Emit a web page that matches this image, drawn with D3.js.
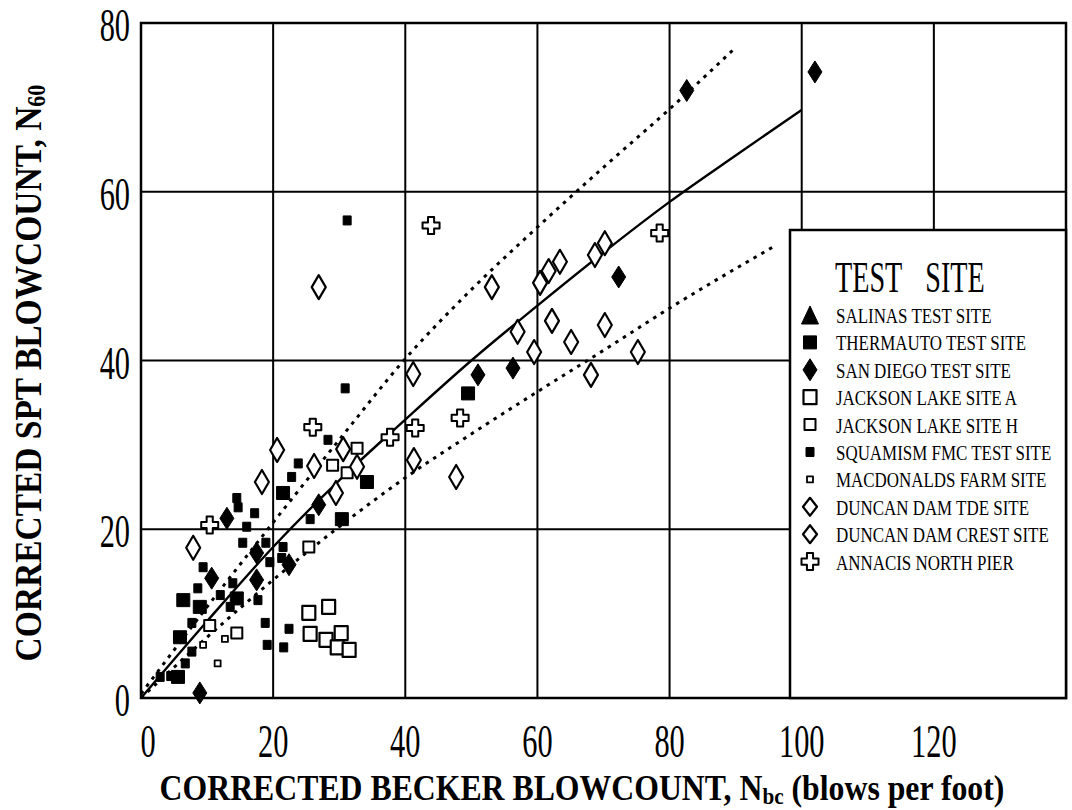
<!DOCTYPE html>
<html>
<head>
<meta charset="utf-8">
<script src="https://cdn.jsdelivr.net/npm/d3@7"></script>
<style>
  body { margin: 0; background: #fff; }
  svg { display: block; }
</style>
</head>
<body>
<svg id="chart" width="1072" height="810"></svg>
<script>
// ---- tick values ----
const xTicks = [0, 20, 40, 60, 80, 100, 120];
const yTicks = [0, 20, 40, 60, 80];

// ---- measured points: [corrected Becker N_bc, corrected SPT N60] ----
const salinas = [];
const thermauto = [[49.5, 36.1], [34.2, 25.6], [21.5, 24.3], [30.4, 21.2], [6.4, 11.6], [8.9, 10.8],
  [5.9, 7.2], [5.6, 2.5], [14.5, 11.8]];
const sanDiego = [[82.6, 72.0], [102.0, 74.2], [72.3, 49.9], [51.0, 38.3], [56.3, 39.1], [26.9, 22.9],
  [13.0, 21.3], [17.5, 17.2], [10.7, 14.2], [22.4, 15.8], [17.5, 14.0], [8.9, 0.6]];
const jacksonA = [[25.4, 10.1], [28.4, 10.8], [25.6, 7.6], [28.0, 6.9], [30.3, 7.7], [29.7, 6.0], [31.5, 5.7]];
const jacksonH = [[14.5, 7.7], [10.4, 8.6], [25.4, 17.9], [32.7, 29.6], [29.0, 27.6], [31.2, 26.7]];
const squamish = [[31.2, 56.6], [30.9, 36.7], [28.3, 30.6], [23.8, 27.8], [22.8, 26.2], [14.5, 23.7],
  [14.7, 22.6], [17.2, 21.9], [16.0, 20.3], [15.4, 18.4], [18.9, 18.4], [9.4, 15.5], [8.6, 13.0],
  [12.0, 12.2], [13.9, 13.6], [19.5, 16.1], [21.5, 17.9], [21.3, 16.6], [17.7, 11.6], [18.8, 8.9],
  [19.1, 6.3], [22.4, 8.2], [21.6, 6.0], [25.6, 21.2], [7.7, 8.9], [7.7, 5.5], [6.7, 4.1], [2.9, 2.5],
  [13.5, 10.8], [4.5, 2.6]];
const macdonalds = [[9.4, 6.3], [11.6, 4.1], [12.7, 7.0]];
const duncanTDE = [[26.9, 48.7], [41.2, 38.4], [41.3, 28.2], [30.6, 29.5], [32.7, 27.4], [26.2, 27.5],
  [29.5, 24.3], [20.6, 29.4], [18.3, 25.6], [7.9, 17.8]];
const duncanCrest = [[53.1, 48.7], [60.4, 49.2], [61.7, 50.6], [63.4, 51.7], [68.7, 52.5], [70.2, 53.9],
  [62.2, 44.7], [57.0, 43.4], [59.5, 41.0], [65.1, 42.2], [70.2, 44.2], [75.2, 41.0], [68.1, 38.3],
  [47.7, 26.2]];
const annacis = [[43.9, 56.0], [78.5, 55.1], [10.4, 20.5], [26.0, 32.1], [37.7, 30.9], [41.5, 32.0], [48.3, 33.2]];

// ---- trend curve and bounds, read along their length ----
const meanCurve = [[0, 0], [10, 9.1], [20, 17.9], [30, 25.8], [40, 33], [50, 40], [60, 46.5], [70, 52.8],
  [80, 58.8], [90, 64.3], [100, 69.7]];
const upperBound = [[0, 0.5], [10, 10.8], [20, 20.8], [30, 30.6], [40, 40.2], [50, 48.4], [60, 55.8],
  [70, 62.9], [80, 69.8], [89.6, 76.8]];
const lowerBound = [[0, 0], [10, 7.2], [20, 14], [30, 20.3], [40, 26.1], [50, 31.3], [60, 36.3],
  [70, 41.2], [80, 46.2], [96.2, 53.7]];

// ---- legend labels ----
const legendLabels = ["SALINAS TEST SITE", "THERMAUTO TEST SITE", "SAN DIEGO TEST SITE",
  "JACKSON LAKE SITE A", "JACKSON LAKE SITE H", "SQUAMISM FMC TEST SITE", "MACDONALDS FARM SITE",
  "DUNCAN DAM TDE SITE", "DUNCAN DAM CREST SITE", "ANNACIS NORTH PIER"];

const seriesData = [salinas, thermauto, sanDiego, jacksonA, jacksonH, squamish, macdonalds,
  duncanTDE, duncanCrest, annacis];

// marker look for each series, same order as legendLabels
const markerStyle = [
  { shape: "triangle", w: 17, h: 18, fill: true },
  { shape: "square", w: 13, h: 13, fill: true },
  { shape: "diamond", w: 14, h: 22, fill: true },
  { shape: "square", w: 13, h: 14, fill: false, sw: 2.2 },
  { shape: "square", w: 11, h: 11, fill: false, sw: 2.0 },
  { shape: "square", w: 8, h: 9, fill: true },
  { shape: "square", w: 6, h: 6, fill: false, sw: 1.8 },
  { shape: "diamond", w: 14, h: 24, fill: false, sw: 2.2 },
  { shape: "diamond", w: 14, h: 24, fill: false, sw: 2.2 },
  { shape: "cross", w: 17, h: 17, fill: false, sw: 2.0 }
];

const SERIF = "'Liberation Serif', 'Times New Roman', serif";

const svg = d3.select("#chart");
const x = d3.scaleLinear().domain([0, 140]).range([141, 1066]);
const y = d3.scaleLinear().domain([0, 80]).range([698, 23]);

function shapePath(s) {
  const w = s.w, h = s.h;
  if (s.shape === "triangle") return `M0,${-h / 2}L${w / 2},${h / 2}L${-w / 2},${h / 2}Z`;
  if (s.shape === "square") return `M${-w / 2},${-h / 2}h${w}v${h}h${-w}Z`;
  if (s.shape === "diamond") return `M0,${-h / 2}L${w / 2},0L0,${h / 2}L${-w / 2},0Z`;
  // plus sign outline
  const a = w * 0.36, b = (w - a) / 2;
  return `M${-a / 2},${-w / 2}h${a}v${b}h${b}v${a}h${-b}v${b}h${-a}v${-b}h${-b}v${-a}h${b}Z`;
}

function drawMarker(sel, s) {
  sel.append("path")
    .attr("d", shapePath(s))
    .attr("fill", s.fill ? "#000" : "#fff")
    .attr("stroke", "#000")
    .attr("stroke-width", s.fill ? 1 : s.sw)
    .attr("stroke-linejoin", "round");
}

// ---- grid and frame ----
const grid = svg.append("g").attr("stroke", "#000").attr("stroke-width", 2);
grid.selectAll("line.v").data(xTicks.filter(d => d > 0)).join("line")
  .attr("x1", d => x(d)).attr("x2", d => x(d)).attr("y1", y(0)).attr("y2", y(80));
grid.selectAll("line.h").data(yTicks.filter(d => d > 0 && d < 80)).join("line")
  .attr("class", "h")
  .attr("x1", x(0)).attr("x2", x(140)).attr("y1", d => y(d)).attr("y2", d => y(d));
svg.append("rect")
  .attr("x", x(0)).attr("y", y(80)).attr("width", x(140) - x(0)).attr("height", y(0) - y(80))
  .attr("fill", "none").attr("stroke", "#000").attr("stroke-width", 2.5);

// ---- curves ----
const line = d3.line().x(d => x(d[0])).y(d => y(d[1])).curve(d3.curveMonotoneX);
svg.append("path").datum(meanCurve).attr("d", line)
  .attr("fill", "none").attr("stroke", "#000").attr("stroke-width", 2.4);
[upperBound, lowerBound].forEach(c => {
  svg.append("path").datum(c).attr("d", line)
    .attr("fill", "none").attr("stroke", "#000").attr("stroke-width", 3)
    .attr("stroke-dasharray", "3.5,5.5");
});

// ---- points ----
seriesData.forEach((pts, i) => {
  svg.append("g").selectAll("g").data(pts).join("g")
    .attr("transform", d => `translate(${x(d[0])},${y(d[1])})`)
    .each(function () { drawMarker(d3.select(this), markerStyle[i]); });
});

// ---- tick labels (tall condensed serif digits) ----
function condensed(parent, tx, ty, txt, size, sx, anchor) {
  parent.append("g").attr("transform", `translate(${tx},${ty}) scale(${sx},1)`)
    .append("text").attr("text-anchor", anchor)
    .style("font-family", SERIF).style("font-size", size + "px").text(txt);
}
yTicks.forEach(v => condensed(svg, 130, y(v) + 18, String(v), 46, 0.66, "end"));
xTicks.forEach(v => condensed(svg, x(v) + (v === 0 ? 7 : 0), 757, String(v), 46, 0.66, "middle"));

// ---- axis titles, bold serif with subscripts, fitted to a width ----
function boldTitle(tx, ty, rot, width, size, main, sub, tail) {
  const g = svg.append("g");
  const t = g.append("text").attr("text-anchor", "middle")
    .style("font-family", SERIF).style("font-weight", "bold").style("font-size", size + "px");
  t.append("tspan").text(main);
  t.append("tspan").text(sub).style("font-size", Math.round(size * 0.66) + "px").attr("dy", 4);
  if (tail) t.append("tspan").text(tail).attr("dy", -4);
  const len = t.node().getComputedTextLength();
  g.attr("transform", `translate(${tx},${ty}) rotate(${rot}) scale(${width / len},1)`);
}
boldTitle(582, 800, 0, 845, 36, "CORRECTED BECKER BLOWCOUNT, N", "bc", " (blows per foot)");
boldTitle(41, 373, -90, 577, 38, "CORRECTED SPT BLOWCOUNT, N", "60", null);

// ---- legend ----
const legend = svg.append("g");
legend.append("rect").attr("x", 790).attr("y", 230).attr("width", x(140) - 790).attr("height", y(0) - 230)
  .attr("fill", "#fff").attr("stroke", "#000").attr("stroke-width", 2.5);
const lt = legend.append("g").attr("transform", "translate(835,292) scale(0.64,1)")
  .append("text").style("font-family", SERIF).style("font-size", "44px");
lt.append("tspan").text("TEST");
lt.append("tspan").attr("dx", 36).text("SITE");

legendLabels.forEach((lab, i) => {
  const base = 323 + i * 27.4;
  condensed(legend, 836, base, lab, 22, 0.77, "start");
  const m = legend.append("g").attr("transform", `translate(${810},${base - 8})`);
  const s = Object.assign({}, markerStyle[i]);
  if (s.shape === "diamond") { s.h = s.fill ? 22 : 18; }
  drawMarker(m, s);
});
</script>
</body>
</html>
